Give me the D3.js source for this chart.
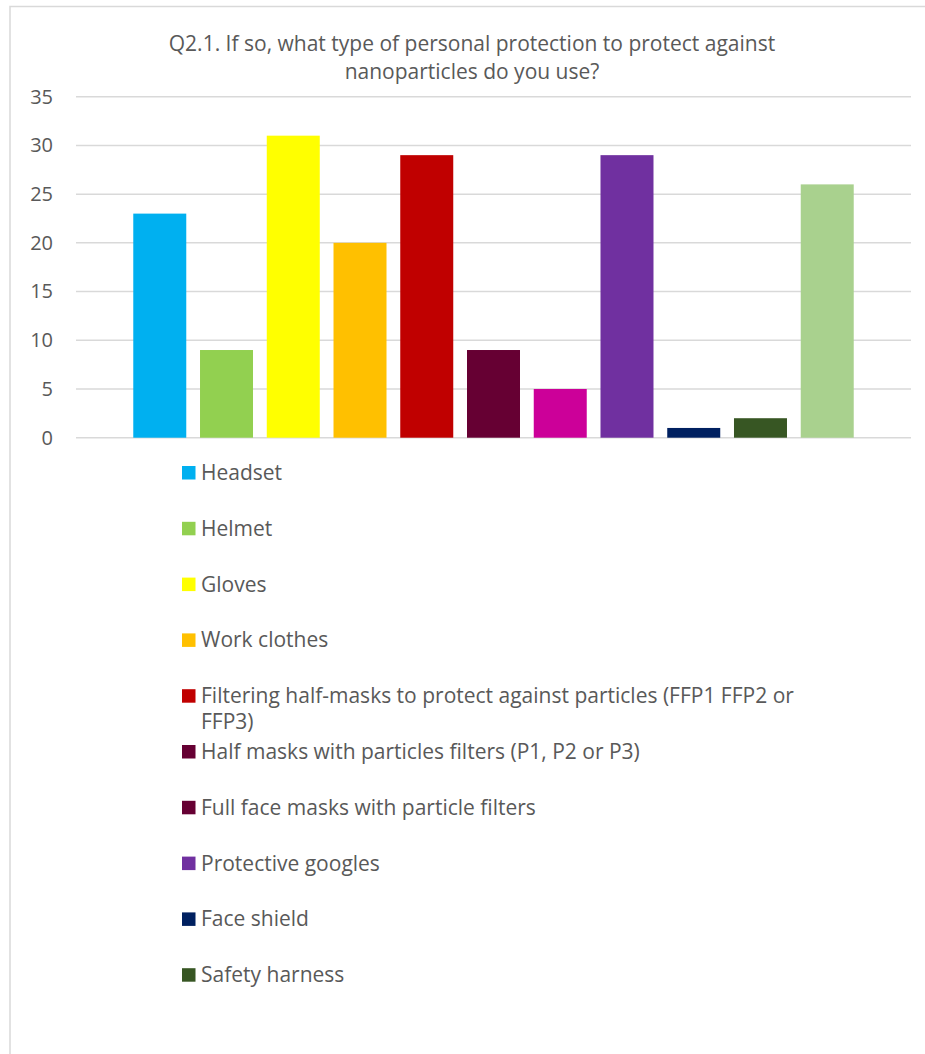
<!DOCTYPE html>
<html>
<head>
<meta charset="utf-8">
<script src="https://cdn.jsdelivr.net/npm/d3@7"></script>
<style>
    html, body { margin: 0; padding: 0; background: #fff; }
    svg { display: block; font-family: "Open Sans", "Noto Sans", sans-serif; }
</style>
</head>
<body>
<div id="chart"></div>
<script>
const titleLines = [
    "Q2.1. If so, what type of personal protection to protect against",
    "nanoparticles do you use?"
];

// one bar per series, in the order they are drawn
const barValues = [23, 9, 31, 20, 29, 9, 5, 29, 1, 2, 26];
const barColors = ["#00B0F0", "#92D050", "#FFFF00", "#FFC000", "#C00000", "#660033",
    "#CC0099", "#7030A0", "#002060", "#375623", "#A9D18E"];

// legend as shown (10 entries)
const legendLabels = [
    "Headset",
    "Helmet",
    "Gloves",
    "Work clothes",
    "Filtering half-masks to protect against particles (FFP1 FFP2 or FFP3)",
    "Half masks with particles filters (P1, P2 or P3)",
    "Full face masks with particle filters",
    "Protective googles",
    "Face shield",
    "Safety harness"
];
const legendColors = ["#00B0F0", "#92D050", "#FFFF00", "#FFC000", "#C00000", "#660033",
    "#660033", "#7030A0", "#002060", "#375623"];

const yTicks = [0, 5, 10, 15, 20, 25, 30, 35];

const width = 925, height = 1054;
const textColor = "#595959";
const gridColor = "#d9d9d9";

const svg = d3.select("#chart").append("svg")
    .attr("width", width)
    .attr("height", height);

// chart frame (runs off the right and bottom edges)
svg.append("rect")
    .attr("x", 10)
    .attr("y", 6.5)
    .attr("width", 960)
    .attr("height", 1100)
    .attr("fill", "#fff")
    .attr("stroke", gridColor)
    .attr("stroke-width", 1.5);

// title
svg.append("g")
    .selectAll("text")
    .data(titleLines)
    .enter()
    .append("text")
    .attr("x", 472)
    .attr("y", (d, i) => 50.5 + i * 28.5)
    .attr("text-anchor", "middle")
    .attr("fill", textColor)
    .style("font-size", "21px")
    .text((d) => d);

const plotLeft = 76, plotRight = 911;
const y = d3.scaleLinear().domain([0, 35]).range([437.7, 96.7]);
const x = d3.scaleBand()
    .domain(barValues.map((d, i) => i))
    .range([plotLeft, plotRight])
    .paddingInner(0.206)
    .paddingOuter(0.858);

// gridlines
svg.append("g")
    .selectAll("line")
    .data(yTicks)
    .enter()
    .append("line")
    .attr("x1", plotLeft)
    .attr("x2", plotRight)
    .attr("y1", (d) => y(d))
    .attr("y2", (d) => y(d))
    .attr("stroke", gridColor)
    .attr("stroke-width", 1.5);

// y axis labels
const yAxis = svg.append("g")
    .attr("transform", "translate(53,0)")
    .call(d3.axisLeft(y).tickValues(yTicks).tickSize(0).tickPadding(0));
yAxis.select(".domain").remove();
yAxis.selectAll("text")
    .attr("fill", textColor)
    .style("font-size", "20px")
    .style("font-family", "'Open Sans', 'Noto Sans', sans-serif");

// bars
svg.append("g")
    .selectAll("rect")
    .data(barValues)
    .enter()
    .append("rect")
    .attr("x", (d, i) => x(i))
    .attr("width", x.bandwidth())
    .attr("y", (d) => y(d))
    .attr("height", (d) => y(0) - y(d))
    .attr("fill", (d, i) => barColors[i]);

// legend
const legend = svg.append("g");
const rowStep = 55.8, firstBaseline = 480, maxTextWidth = 610;

legendLabels.forEach((label, i) => {
    const base = firstBaseline + i * rowStep;
    const item = legend.append("g");
    item.append("rect")
        .attr("x", 182)
        .attr("y", base - 14)
        .attr("width", 13.5)
        .attr("height", 13.5)
        .attr("fill", legendColors[i]);

    const text = item.append("text")
        .attr("x", 201)
        .attr("y", base)
        .attr("fill", textColor)
        .style("font-size", "21px");

    // wrap long labels
    const words = label.split(" ");
    let line = [];
    let lineNo = 0;
    let tspan = text.append("tspan").attr("x", 201).attr("y", base);
    words.forEach((w) => {
        line.push(w);
        tspan.text(line.join(" "));
        if (tspan.node().getComputedTextLength() > maxTextWidth && line.length > 1) {
            line.pop();
            tspan.text(line.join(" "));
            line = [w];
            lineNo++;
            tspan = text.append("tspan")
                .attr("x", 201)
                .attr("y", base + lineNo * 26)
                .text(w);
        }
    });
});
</script>
</body>
</html>
